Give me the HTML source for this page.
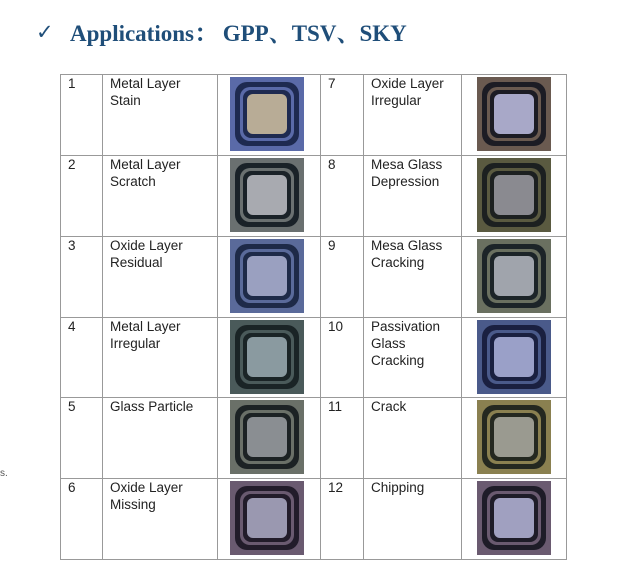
<!DOCTYPE html>
<html><head><meta charset="utf-8"><style>
body{margin:0;width:619px;height:588px;background:#fff;position:relative;overflow:hidden;font-family:"Liberation Sans",Arial,sans-serif}
.t{position:absolute;left:70px;top:15px;font-family:"Liberation Serif","Noto Serif CJK SC",serif;font-weight:bold;font-size:23px;color:#1f4e79;white-space:nowrap}
.ck{position:absolute;left:36px;top:20px;font-family:"DejaVu Sans",sans-serif;font-size:21px;color:#1f4e79;font-weight:bold}
.l{position:absolute;background:#999}
.tx{position:absolute;font-size:13.5px;line-height:17px;color:#222}
svg.c{position:absolute;width:74px;height:74px}
</style></head><body>
<div class="ck">✓</div>
<div class="t">Applications： GPP、TSV、SKY</div>
<div class="tx" style="left:0;top:465px;font-size:10px;color:#555">s.</div>
<div id="g"></div>
<script>
var g=document.getElementById('g'),h='';
var xs=[60,102,217,320,363,461,566],ys=[74,155,236,317,397,478,559];
xs.forEach(x=>h+=`<div class="l" style="left:${x}px;top:74px;width:1px;height:486px"></div>`);
ys.forEach(y=>h+=`<div class="l" style="left:60px;top:${y}px;width:507px;height:1px"></div>`);
var L=["Metal Layer<br>Stain","Metal Layer<br>Scratch","Oxide Layer<br>Residual","Metal Layer<br>Irregular","Glass Particle","Oxide Layer<br>Missing"];
var R=["Oxide Layer<br>Irregular","Mesa Glass<br>Depression","Mesa Glass<br>Cracking","Passivation<br>Glass<br>Cracking","Crack","Chipping"];
var cl=[["#5a6aa8","#1e2a50","#b8ac96"],["#6a7070","#1a2228","#a8aab0"],["#5a6a9a","#1e2a48","#9aa0c0"],["#4a5a5a","#1a2426","#8a9aa0"],["#6a7068","#1c2224","#8a8e92"],["#6a5a70","#221c2a","#9a98b0"]];
var cr=[["#6a5a50","#1c1c24","#a8a8c8"],["#5a5a40","#1c2020","#8a8a90"],["#6a7060","#1c2428","#a0a4ac"],["#4a5a8a","#1a2040","#9aa0c8"],["#8a8050","#242820","#9a9a90"],["#6a5a70","#1e1c28","#a0a0c0"]];
function chip(x,y,c){return `<svg class="c" style="left:${x}px;top:${y}px" viewBox="0 0 74 74"><rect width="74" height="74" fill="${c[0]}"/><rect x="5" y="5" width="64" height="64" rx="12" fill="${c[1]}"/><rect x="10" y="10" width="54" height="54" rx="10" fill="${c[0]}"/><rect x="13" y="13" width="48" height="48" rx="8" fill="${c[1]}"/><rect x="17" y="17" width="40" height="40" rx="6" fill="${c[2]}"/></svg>`;}
for(var i=0;i<6;i++){var y=ys[i];
h+=`<div class="tx" style="left:68px;top:${y+1}px">${i+1}</div><div class="tx" style="left:110px;top:${y+1}px">${L[i]}</div>`;
h+=`<div class="tx" style="left:328px;top:${y+1}px">${i+7}</div><div class="tx" style="left:371px;top:${y+1}px">${R[i]}</div>`;
h+=chip(230,y+3,cl[i])+chip(477,y+3,cr[i]);}
g.innerHTML=h;
</script>
</body></html>
